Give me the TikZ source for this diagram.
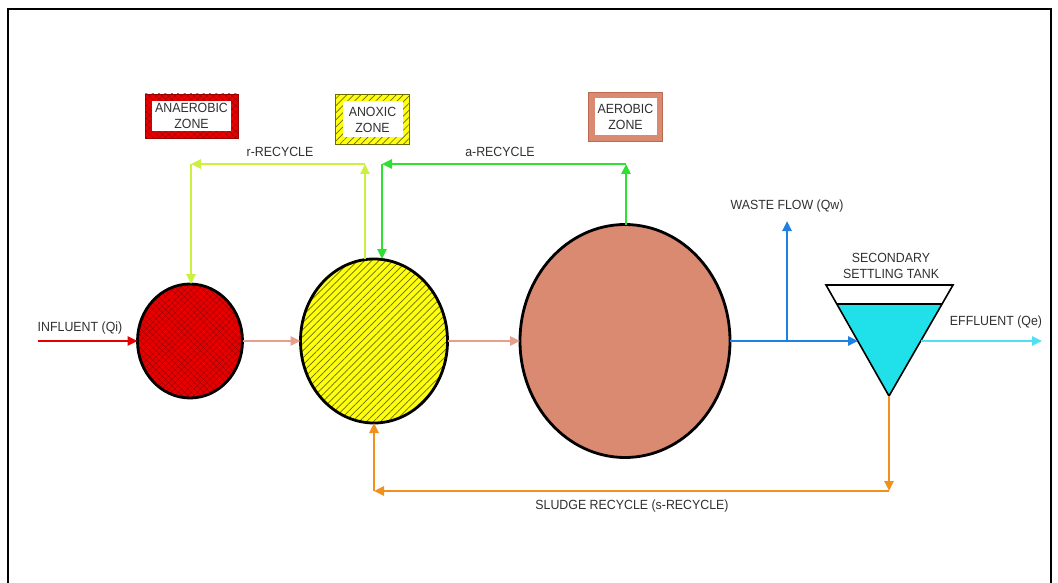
\documentclass[tikz,border=0pt]{standalone}
\usepackage{fontspec}
\setmainfont{Liberation Sans}[FakeStretch=0.93]
\usetikzlibrary{arrows.meta,shapes.geometric,patterns.meta}
\definecolor{redA}{HTML}{E80000}
\definecolor{redD}{HTML}{9A0000}
\definecolor{yel}{HTML}{FFFF10}
\definecolor{yelD}{HTML}{6B6B00}
\definecolor{salm}{HTML}{DA8A70}
\definecolor{salmD}{HTML}{B86A52}
\definecolor{pipec}{HTML}{E4A08C}
\definecolor{rgreen}{HTML}{CCF040}
\definecolor{agreen}{HTML}{30E030}
\definecolor{blu}{HTML}{1E80E0}
\definecolor{cyn}{HTML}{20E0EA}
\definecolor{effc}{HTML}{50E0F0}
\definecolor{orng}{HTML}{F0901E}
\definecolor{txt}{HTML}{303030}
\begin{document}
\begin{tikzpicture}[x=1pt,y=-1pt,
  every node/.style={font=\fontsize{13.3}{16}\selectfont, text=txt},
  flow/.style={line width=2.4pt, -{Triangle[length=10pt,width=9pt]}},
  reactor/.style={ellipse, draw=black, line width=2.8pt, inner sep=0pt, outer sep=0pt},
  zonebox/.style={rectangle, inner sep=0pt, line width=0.8pt},
  zoneinner/.style={rectangle, fill=white, inner sep=0pt},
  lbl/.style={inner sep=1pt, align=center},
  redhatch/.style={preaction={fill=redA}, pattern={Hatch[angle=45,distance=4.5pt,line width=0.35pt]}, pattern color=redD},
  yelhatch/.style={preaction={fill=yel}, pattern={Lines[angle=45,distance=5pt,line width=0.7pt]}, pattern color=yelD}]
\useasboundingbox (0,0) rectangle (1058,583);
% frame
\draw[line width=1.8pt] (8,600) -- (8,9) -- (1051,9) -- (1051,600);

% zone legend boxes
\node[zonebox, draw=redD, redhatch, minimum width=93pt, minimum height=44pt] (zAna) at (191.5,116) {};
\node[zoneinner, minimum width=79pt, minimum height=30pt] (zAnaW) at (zAna) {};
\node[lbl] (zAnaT) at (zAna) {ANAEROBIC\\ZONE};

\node[zonebox, draw=yelD, yelhatch, minimum width=74pt, minimum height=50pt] (zAnx) at (372.5,119.5) {};
\node[zoneinner, minimum width=60pt, minimum height=36pt] (zAnxW) at (zAnx) {};
\node[lbl] (zAnxT) at (zAnx) {ANOXIC\\ZONE};

\node[zonebox, draw=salmD, fill=salm, minimum width=74pt, minimum height=49pt] (zAer) at (625.5,117) {};
\node[zoneinner, minimum width=62pt, minimum height=37pt] (zAerW) at (zAer) {};
\node[lbl] (zAerT) at (zAer) {AEROBIC\\ZONE};

% reactors
\node[reactor, redhatch, minimum width=105pt, minimum height=114pt] (ana) at (190,341) {};
\node[reactor, yelhatch, minimum width=147pt, minimum height=164pt] (anx) at (374,341) {};
\node[reactor, fill=salm, minimum width=210pt, minimum height=233pt] (aer) at (625,341) {};

% settling tank
\coordinate (tl) at (826,285);
\coordinate (tr) at (953,285);
\coordinate (tb) at (889,396);
\coordinate (wl) at (836.8,304);
\coordinate (wr) at (942,304);
\fill[cyn] (wl) -- (wr) -- (tb) -- cycle;
\draw[line width=1.6pt, line join=miter] (tl) -- (tr) -- (tb) -- cycle;
\draw[line width=1.6pt] (wl) -- (wr);
\coordinate (tin) at (858,341);
\coordinate (tout) at (921,341);

% influent
\coordinate (inf) at (38,341);
\draw[flow, draw=redA, fill=redA] (inf) -- (ana.west);
\node[lbl] (infT) at (80,328) {INFLUENT (Qi)};

% main pipes
\draw[flow, draw=pipec, fill=pipec] (ana.east) -- (anx.west);
\draw[flow, draw=pipec, fill=pipec] (anx.east) -- (aer.west);
\draw[flow, draw=blu, fill=blu] (aer.east) -- (tin);

% waste flow
\coordinate (wj) at (787,341);
\coordinate (wtop) at (787,221);
\draw[flow, draw=blu, fill=blu] (wj) -- (wtop);
\node[lbl] (wasteT) at (787,206) {WASTE FLOW (Qw)};

% effluent
\coordinate (eff) at (1042,341);
\draw[flow, draw=effc, fill=effc] (tout) -- (eff);
\node[lbl] (effT) at (996,322) {EFFLUENT (Qe)};
\node[lbl] (tankT) at (891,266) {SECONDARY\\SETTLING TANK};

% r-recycle
\coordinate (rup) at (365,164);
\coordinate (rleft) at (191,164);
\draw[flow, draw=rgreen, fill=rgreen] (anx.north -| rup) -- (rup);
\draw[flow, draw=rgreen, fill=rgreen] (rup) -- (rleft);
\draw[flow, draw=rgreen, fill=rgreen] (rleft) -- (ana.north -| rleft);
\node[lbl] (rT) at (280,152) {r-RECYCLE};

% a-recycle
\coordinate (aup) at (626,164);
\coordinate (aleft) at (382,164);
\draw[flow, draw=agreen, fill=agreen] (aer.north -| aup) -- (aup);
\draw[flow, draw=agreen, fill=agreen] (aup) -- (aleft);
\draw[flow, draw=agreen, fill=agreen] (aleft) -- (anx.north -| aleft);
\node[lbl] (aT) at (500,152) {a-RECYCLE};

% sludge recycle
\coordinate (s1) at (889,491);
\coordinate (s2) at (374,491);
\draw[flow, draw=orng, fill=orng] (tb) -- (s1);
\draw[flow, draw=orng, fill=orng] (s1) -- (s2);
\draw[flow, draw=orng, fill=orng] (s2) -- (anx.south);
\node[lbl] (sT) at (632,506) {SLUDGE RECYCLE (s-RECYCLE)};
\end{tikzpicture}
\end{document}
